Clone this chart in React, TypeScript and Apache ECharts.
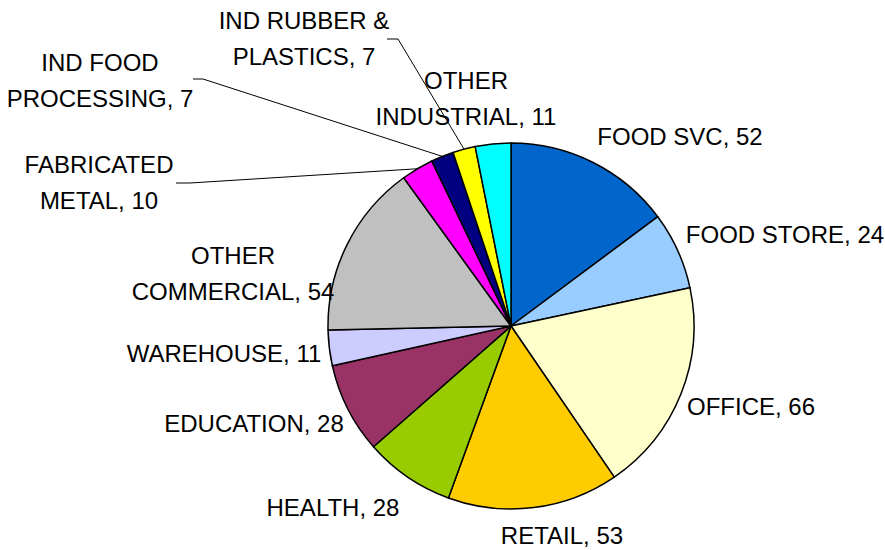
import React, { useEffect, useRef } from "react";
import * as echarts from "echarts";

const categories = [
  "FOOD SVC",
  "FOOD STORE",
  "OFFICE",
  "RETAIL",
  "HEALTH",
  "EDUCATION",
  "WAREHOUSE",
  "OTHER\nCOMMERCIAL",
  "FABRICATED\nMETAL",
  "IND FOOD\nPROCESSING",
  "IND RUBBER &\nPLASTICS",
  "OTHER\nINDUSTRIAL",
];
const values = [52, 24, 66, 53, 28, 28, 11, 54, 10, 7, 7, 11];
const colors = [
  "#0066CC",
  "#99CCFF",
  "#FFFFCC",
  "#FFCC00",
  "#99CC00",
  "#993366",
  "#CCCCFF",
  "#C0C0C0",
  "#FF00FF",
  "#000080",
  "#FFFF00",
  "#00FFFF",
];
// label centre positions (layout only)
const labelPos: number[][] = [
  [680, 136],
  [785, 234],
  [751, 406],
  [562, 535],
  [333, 507],
  [254, 423],
  [224, 353],
  [233, 273],
  [99, 182],
  [100, 80],
  [304, 38],
  [466, 98],
];
// leader line elbows (layout only): [elbow, end near label]
const leaders: Record<number, number[][]> = {
  8: [[190, 183], [176, 183]],
  9: [[203, 79], [193, 79]],
  10: [[398, 39], [387, 39]],
};

export default function App() {
  const ref = useRef<HTMLDivElement>(null);
  useEffect(() => {
    if (!ref.current) return;
    const chart = echarts.init(ref.current, undefined, { renderer: "svg" });
    chart.setOption({
      animation: false,
      backgroundColor: "#ffffff",
      series: [
        {
          type: "pie",
          center: [511, 326],
          radius: 183,
          startAngle: 90,
          clockwise: true,
          avoidLabelOverlap: false,
          itemStyle: { borderColor: "#000000", borderWidth: 1.5 },
          label: {
            show: true,
            formatter: "{b}, {c}",
            color: "#000000",
            fontFamily: "Liberation Sans, Arial, sans-serif",
            fontSize: 24,
            lineHeight: 36,
            align: "center",
          },
          labelLine: {
            show: true,
            lineStyle: { color: "#000000", width: 1 },
          },
          labelLayout: (params: any) => {
            const i = params.dataIndex;
            const p = labelPos[i];
            const out: any = {
              x: p[0],
              y: p[1],
              align: "center",
              verticalAlign: "middle",
            };
            if (leaders[i] && params.labelLinePoints) {
              out.labelLinePoints = [
                params.labelLinePoints[0],
                leaders[i][0],
                leaders[i][1],
              ];
            }
            return out;
          },
          emphasis: { disabled: true },
          data: categories.map((name, i) => ({
            name,
            value: values[i],
            itemStyle: { color: colors[i] },
            labelLine: { show: !!leaders[i] },
          })),
        },
      ],
    });
    return () => chart.dispose();
  }, []);
  return (
    <div
      ref={ref}
      style={{ position: "fixed", left: 0, top: 0, width: 885, height: 550 }}
    />
  );
}
